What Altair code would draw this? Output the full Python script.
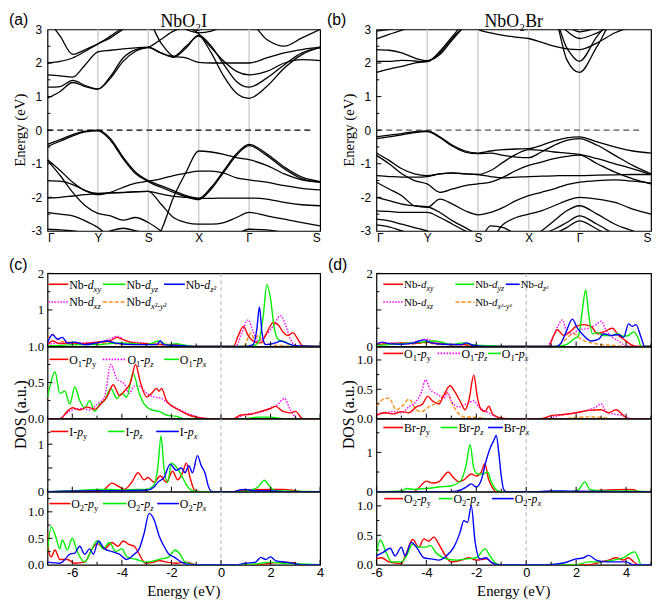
import altair as alt
import pandas as pd

SERIF = "Liberation Serif"
SANS = "Liberation Sans"

# ---------------- band structure data ----------------
K_GRID = [0, 0.25, 0.5, 0.75, 1, 1.25, 1.5, 1.75, 2, 2.25, 2.5, 2.75, 3, 3.25, 3.5, 3.75, 4, 4.35, 4.7, 5.05, 5.41]
K_TICKS = [0, 1, 2, 3, 4, 5.41]
K_LABELS = ["Γ", "Y", "S", "X", "Γ", "S"]

A_C1 = [0.95, 1.15, 1.42, 1.30, 1.22, 1.60, 2.15, 2.40, 2.47, 2.70, 2.95, 3.05, 2.87, 2.30, 1.60, 1.10, 0.95, 1.30, 1.85, 2.25, 2.47]
A_C2 = [1.28, 1.30, 1.48, 1.33, 1.23, 1.55, 2.05, 2.35, 2.46, 2.30, 2.17, 2.45, 2.83, 2.50, 1.95, 1.45, 1.28, 1.55, 1.95, 2.30, 2.45]
A_C3 = [1.65, 1.62, 1.58, 1.95, 2.33, 2.38, 2.42, 2.45, 2.47, 2.30, 2.20, 2.50, 2.80, 2.45, 2.05, 1.75, 1.65, 1.75, 2.00, 2.10, 2.07]
A_C4 = [2.00, 2.05, 2.15, 2.35, 2.57, 2.75, 3.00, 3.15, 3.20, 2.60, 2.20, 2.15, 2.02, 2.00, 2.00, 2.00, 2.00, 2.15, 2.30, 2.40, 2.47]
A_C5 = [3.30, 2.80, 2.26, 2.40, 2.57, 2.80, 3.05, 3.20, 3.30, 3.30, 3.20, 3.00, 2.90, 2.95, 3.10, 3.20, 3.20, 2.70, 2.50, 2.75, 3.00]
A_V1 = [-0.42, -0.28, -0.13, -0.03, 0.00, -0.25, -0.80, -1.25, -1.50, -1.65, -1.80, -1.95, -2.03, -1.70, -1.20, -0.70, -0.42, -0.70, -1.10, -1.40, -1.53]
A_V2 = [-0.48, -0.33, -0.17, -0.05, -0.02, -0.30, -0.85, -1.30, -1.53, -1.70, -1.85, -1.98, -2.07, -1.75, -1.25, -0.75, -0.46, -0.75, -1.15, -1.45, -1.55]
A_V3 = [-0.88, -1.20, -1.55, -1.80, -1.88, -1.87, -1.86, -1.84, -1.82, -1.90, -1.97, -2.00, -2.03, -2.03, -2.02, -2.02, -2.02, -2.05, -2.15, -2.22, -2.25]
A_V4 = [-0.90, -1.35, -1.85, -2.25, -2.48, -2.55, -2.68, -2.60, -2.75, -3.00, -3.30, -3.40, -3.40, -3.30, -3.20, -3.10, -3.05, -3.10, -3.20, -3.30, -3.40]
A_V5 = [-1.50, -1.52, -1.62, -1.80, -1.92, -1.85, -1.70, -1.58, -1.52, -1.45, -1.35, -1.28, -1.22, -1.22, -1.28, -1.42, -1.48, -1.55, -1.65, -1.73, -1.78]
A_V6 = [-2.45, -2.50, -2.55, -2.70, -2.90, -3.20, -3.40, -3.40, -3.40, -3.00, -2.00, -1.25, -0.62, -0.65, -0.72, -0.82, -0.88, -1.05, -1.30, -1.48, -1.55]
A_V7 = [-2.02, -2.00, -1.96, -1.92, -1.89, -1.87, -1.85, -1.83, -1.82, -2.20, -2.60, -2.75, -2.80, -2.80, -2.75, -2.60, -2.45, -2.55, -2.65, -2.75, -2.85]
A_V8 = [-2.95, -2.97, -3.00, -3.05, -3.10, -3.00, -2.92, -3.00, -3.10, -3.40, -3.40, -3.40, -3.40, -3.40, -3.30, -3.10, -2.95, -2.97, -3.05, -3.20, -3.40]
BANDS_A = [A_C1, A_C2, A_C3, A_C4, A_C5, A_V1, A_V2, A_V3, A_V4, A_V5, A_V6, A_V7, A_V8]

B_C1 = [1.72, 1.82, 1.90, 2.00, 2.05, 2.30, 2.75, 3.10, 3.30, 3.30, 3.30, 3.30, 3.30, 3.30, 3.30, 2.10, 1.72, 2.50, 3.30, 3.30, 3.30]
B_C2 = [2.05, 2.05, 2.08, 2.06, 2.04, 2.35, 2.80, 3.20, 3.30, 3.30, 3.30, 3.30, 3.30, 3.30, 3.30, 2.45, 2.05, 2.80, 3.30, 3.30, 3.30]
B_C3 = [2.40, 2.38, 2.30, 2.15, 2.07, 2.25, 2.70, 3.10, 3.30, 3.30, 3.30, 3.30, 3.30, 3.30, 3.30, 2.95, 2.73, 2.90, 3.15, 3.30, 3.30]
B_C4 = [2.72, 2.85, 2.98, 3.10, 3.20, 3.30, 3.30, 3.30, 3.00, 2.90, 2.82, 2.77, 2.73, 2.62, 2.50, 2.42, 2.40, 2.60, 2.90, 3.10, 3.30]
B_C5 = [2.95, 3.00, 3.10, 3.20, 3.30, 3.30, 3.30, 3.30, 3.30, 3.30, 3.30, 3.30, 3.30, 3.30, 3.30, 3.10, 2.93, 3.05, 3.20, 3.30, 3.30]
B_V1 = [-0.20, -0.15, -0.10, -0.04, -0.02, -0.20, -0.45, -0.62, -0.68, -0.62, -0.58, -0.56, -0.55, -0.45, -0.32, -0.23, -0.20, -0.35, -0.50, -0.62, -0.68]
B_V2 = [-0.25, -0.20, -0.14, -0.07, -0.04, -0.22, -0.48, -0.65, -0.70, -0.68, -0.75, -0.80, -0.82, -0.65, -0.45, -0.30, -0.25, -0.45, -0.75, -1.05, -1.30]
B_V3 = [-0.68, -0.90, -1.15, -1.30, -1.35, -1.30, -1.28, -1.30, -1.32, -1.20, -0.95, -0.72, -0.58, -0.60, -0.65, -0.68, -0.72, -0.85, -1.00, -1.15, -1.32]
B_V4 = [-0.75, -1.00, -1.30, -1.50, -1.60, -1.85, -1.75, -1.65, -1.60, -1.55, -1.40, -1.20, -1.05, -0.95, -0.85, -0.78, -0.74, -1.00, -1.25, -1.45, -1.60]
B_V5 = [-1.35, -1.38, -1.40, -1.40, -1.38, -1.30, -1.27, -1.30, -1.32, -1.38, -1.42, -1.40, -1.38, -1.37, -1.36, -1.35, -1.35, -1.34, -1.33, -1.32, -1.32]
B_V6 = [-1.55, -1.75, -1.95, -2.25, -2.30, -2.05, -2.20, -2.40, -2.52, -2.45, -2.30, -2.10, -1.95, -1.85, -1.75, -1.62, -1.55, -1.50, -1.48, -1.52, -1.58]
B_V7 = [-2.00, -2.10, -2.20, -2.25, -2.28, -2.45, -2.70, -2.90, -3.10, -3.20, -2.80, -2.60, -2.50, -2.40, -2.25, -2.10, -2.00, -2.05, -2.15, -2.35, -2.50]
B_V8 = [-2.40, -2.42, -2.45, -2.45, -2.45, -2.60, -2.80, -3.00, -3.20, -3.30, -3.30, -3.30, -3.20, -3.00, -2.70, -2.40, -2.25, -2.50, -2.80, -3.00, -3.20]
B_V9 = [-2.65, -2.70, -2.80, -2.90, -3.00, -3.20, -3.30, -3.30, -3.30, -2.85, -2.90, -3.10, -3.20, -3.10, -2.95, -2.75, -2.55, -2.80, -3.10, -3.30, -3.30]
B_V10 = [-2.82, -2.88, -3.00, -3.10, -3.20, -3.30, -3.30, -3.30, -3.30, -3.30, -3.30, -3.30, -3.30, -3.30, -3.10, -2.90, -2.70, -2.95, -3.20, -3.30, -3.30]
BANDS_B = [B_C1, B_C2, B_C3, B_C4, B_C5, B_V1, B_V2, B_V3, B_V4, B_V5, B_V6, B_V7, B_V8, B_V9, B_V10]

# ---------------- DOS data (energy, value) ----------------
C_NB_DXY = [(-7,0.05),(-6.8,0.15),(-6.5,0.08),(-6,0.1),(-5.5,0.08),(-5,0.12),(-4.5,0.15),(-4.2,0.25),(-4,0.2),(-3.5,0.1),(-3,0.08),(-2.5,0.06),(-2,0.05),(-1.5,0.03),(-1,0.0),(0.5,0.0),(0.7,0.3),(0.9,0.55),(1.1,0.3),(1.3,0.15),(1.6,0.1),(1.9,0.45),(2.1,0.65),(2.3,0.6),(2.5,0.4),(2.7,0.3),(2.9,0.38),(3.1,0.2),(3.3,0.02),(4,0)]
C_NB_DYZ = [(-7,0.02),(-6.5,0.03),(-6,0.05),(-5,0.05),(-4.5,0.08),(-4,0.1),(-3.5,0.08),(-3,0.05),(-2.5,0.15),(-2.2,0.05),(-1.8,0.08),(-1.5,0.04),(-1,0),(1.2,0),(1.5,0.1),(1.7,0.8),(1.85,1.7),(2.0,1.3),(2.15,0.5),(2.3,0.2),(2.6,0.12),(2.8,0.05),(3.0,0.0),(4,0)]
C_NB_DZ2 = [(-7,0.1),(-6.8,0.33),(-6.6,0.2),(-6.4,0.25),(-6.2,0.1),(-5.9,0.12),(-5.5,0.05),(-5,0.1),(-4.6,0.15),(-4.3,0.1),(-3.5,0.05),(-2.6,0.05),(-2.45,0.15),(-2.3,0.05),(-1.5,0.02),(-1,0),(1.0,0),(1.3,0.05),(1.45,0.5),(1.55,1.08),(1.65,0.4),(1.8,0.05),(2.2,0.1),(2.4,0.15),(2.7,0.08),(3.0,0.02),(4,0)]
C_NB_DXZ = [(-7,0.05),(-6.5,0.1),(-6,0.08),(-5.5,0.1),(-5,0.12),(-4.5,0.2),(-4.2,0.28),(-3.8,0.15),(-3.2,0.1),(-2.5,0.05),(-1.5,0.02),(-1,0),(0.6,0),(0.8,0.3),(1.1,0.73),(1.3,0.4),(1.5,0.15),(1.8,0.3),(2.1,0.55),(2.4,0.84),(2.6,0.6),(2.8,0.2),(3.1,0.0),(4,0)]
C_NB_DX2 = [(-7,0.2),(-6.8,0.33),(-6.5,0.15),(-6.2,0.12),(-5.8,0.08),(-5.5,0.05),(-5,0.08),(-4.5,0.1),(-4,0.05),(-3,0.05),(-2,0.03),(-1,0),(0.9,0),(1.1,0.25),(1.2,0.37),(1.35,0.2),(1.5,0.3),(1.7,0.1),(2.0,0.05),(2.5,0.02),(3,0),(4,0)]

C_O1_PY = [(-7,0),(-6.5,0),(-6.2,0.1),(-6,0.15),(-5.7,0.12),(-5.4,0.16),(-5.1,0.13),(-4.8,0.22),(-4.6,0.3),(-4.35,0.47),(-4.1,0.32),(-3.9,0.38),(-3.65,0.5),(-3.45,0.75),(-3.25,0.5),(-3.0,0.3),(-2.8,0.35),(-2.6,0.42),(-2.5,0.38),(-2.4,0.42),(-2.2,0.25),(-2.0,0.18),(-1.7,0.12),(-1.3,0.05),(-1.0,0.02),(-0.5,0),(0.5,0),(0.8,0.05),(1.2,0.06),(1.6,0.1),(2.0,0.14),(2.2,0.17),(2.5,0.1),(2.8,0.08),(3.0,0.1),(3.3,0.0),(4,0)]
C_O1_PZ = [(-7,0),(-6.5,0),(-6.2,0.08),(-6,0.12),(-5.6,0.14),(-5.3,0.12),(-5,0.2),(-4.7,0.3),(-4.45,0.75),(-4.2,0.55),(-3.9,0.48),(-3.7,0.35),(-3.5,0.45),(-3.3,0.45),(-3.0,0.35),(-2.7,0.3),(-2.4,0.28),(-2.1,0.2),(-1.8,0.15),(-1.4,0.08),(-1.0,0.03),(-0.5,0),(0.5,0),(1.0,0.06),(1.5,0.08),(2.0,0.15),(2.3,0.2),(2.55,0.28),(2.8,0.12),(3.1,0.0),(4,0)]
C_O1_PX = [(-7,0.3),(-6.9,0.45),(-6.7,0.65),(-6.5,0.35),(-6.3,0.38),(-6.1,0.2),(-5.9,0.44),(-5.7,0.25),(-5.5,0.15),(-5.3,0.25),(-5.1,0.1),(-4.9,0.2),(-4.7,0.25),(-4.45,0.42),(-4.2,0.28),(-4.0,0.35),(-3.8,0.3),(-3.55,0.63),(-3.3,0.35),(-3.1,0.2),(-2.8,0.12),(-2.5,0.1),(-2.2,0.05),(-1.8,0.03),(-1.5,0),(1.0,0),(1.5,0.02),(2.0,0.02),(2.5,0),(4,0)]

C_I_PY = [(-7,0),(-5,0),(-4.7,0.05),(-4.4,0.18),(-4.1,0.1),(-3.9,0.05),(-3.6,0.2),(-3.35,0.4),(-3.1,0.25),(-2.95,0.3),(-2.7,0.2),(-2.45,0.33),(-2.2,0.2),(-1.95,0.43),(-1.75,0.25),(-1.55,0.4),(-1.4,0.6),(-1.25,0.3),(-1.05,0.02),(-0.8,0),(0.5,0),(1.0,0.03),(2.0,0.05),(2.5,0.05),(3.0,0.02),(3.3,0),(4,0)]
C_I_PZ = [(-7,0),(-6,0.02),(-5,0.05),(-4.5,0.05),(-4,0.03),(-3.5,0.05),(-3.0,0.05),(-2.7,0.15),(-2.55,0.5),(-2.42,1.17),(-2.3,0.5),(-2.15,0.2),(-2.0,0.6),(-1.85,0.55),(-1.6,0.35),(-1.4,0.15),(-1.15,0.02),(-0.8,0),(0.8,0),(1.2,0.03),(1.5,0.1),(1.75,0.24),(1.95,0.12),(2.2,0.02),(4,0)]
C_I_PX = [(-7,0),(-5,0.02),(-4,0.02),(-3,0.03),(-2.7,0.1),(-2.55,0.2),(-2.3,0.3),(-2.05,0.58),(-1.8,0.45),(-1.6,0.5),(-1.45,0.4),(-1.3,0.55),(-1.15,0.4),(-0.95,0.76),(-0.8,0.55),(-0.65,0.4),(-0.5,0.1),(-0.35,0),(0.5,0),(0.8,0.04),(1.0,0.05),(1.3,0.02),(2,0.02),(2.5,0),(4,0)]

C_O2_PY = [(-7,0.6),(-6.95,0.25),(-6.85,0.15),(-6.7,0.28),(-6.5,0.1),(-6.2,0.1),(-5.9,0.03),(-5.5,0.05),(-5.2,0.3),(-5.0,0.4),(-4.7,0.3),(-4.4,0.42),(-4.15,0.35),(-3.95,0.45),(-3.7,0.38),(-3.5,0.35),(-3.3,0.2),(-3.05,0.03),(-2.7,0.05),(-2.5,0.08),(-2.2,0.05),(-1.8,0.03),(-1.4,0.05),(-1.0,0),(1.5,0),(2.0,0.03),(2.5,0.05),(2.9,0.04),(3.2,0),(4,0)]
C_O2_PZ = [(-7,0.25),(-6.85,0.72),(-6.65,0.5),(-6.5,0.3),(-6.4,0.47),(-6.2,0.28),(-6.0,0.5),(-5.8,0.25),(-5.5,0.05),(-5.3,0.2),(-5.0,0.45),(-4.75,0.3),(-4.5,0.42),(-4.25,0.25),(-4.0,0.3),(-3.8,0.15),(-3.4,0.1),(-3.0,0.05),(-2.5,0.1),(-2.1,0.15),(-1.85,0.28),(-1.65,0.2),(-1.45,0.05),(-1.0,0),(1.0,0),(1.5,0.02),(2.0,0.05),(2.5,0.03),(3.0,0.02),(4,0)]
C_O2_PX = [(-7,0.05),(-6.5,0.03),(-6.3,0.1),(-6.1,0.2),(-5.9,0.22),(-5.7,0.35),(-5.5,0.2),(-5.3,0.3),(-5.15,0.2),(-4.95,0.45),(-4.7,0.3),(-4.4,0.25),(-4.1,0.2),(-3.8,0.1),(-3.5,0.2),(-3.3,0.3),(-3.1,0.6),(-2.9,0.97),(-2.7,0.85),(-2.5,0.55),(-2.3,0.35),(-2.1,0.2),(-1.9,0.15),(-1.6,0.05),(-1.2,0.0),(0.6,0),(1.0,0.03),(1.4,0.05),(1.6,0.14),(1.8,0.1),(2.0,0.15),(2.2,0.08),(2.6,0.05),(3.0,0.02),(3.3,0),(4,0)]

D_NB_DXY = [(-6,0.05),(-5.5,0.08),(-5,0.1),(-4.5,0.08),(-4,0.12),(-3.5,0.08),(-3,0.05),(-2.5,0.05),(-2,0.03),(-1.5,0),(0.9,0),(1.1,0.3),(1.25,0.46),(1.5,0.3),(1.75,0.4),(2.0,0.55),(2.3,0.6),(2.6,0.55),(2.85,0.35),(3.1,0.4),(3.45,0.5),(3.7,0.3),(3.9,0.2),(4.2,0.05),(4.4,0),(5,0)]
D_NB_DYZ = [(-6,0.03),(-5.5,0.05),(-5,0.08),(-4.5,0.1),(-4.2,0.12),(-3.7,0.15),(-3.3,0.1),(-3,0.05),(-2.5,0.1),(-2.2,0.05),(-1.5,0.02),(-1,0),(1.2,0),(1.6,0.05),(1.9,0.2),(2.1,0.3),(2.25,1.0),(2.38,1.55),(2.5,0.9),(2.65,0.35),(2.85,0.38),(3.1,0.3),(3.4,0.3),(3.65,0.35),(3.9,0.28),(4.1,0.3),(4.3,0.4),(4.5,0.2),(4.6,0.0),(5,0)]
D_NB_DZ2 = [(-6,0.05),(-5.8,0.12),(-5.5,0.08),(-5,0.06),(-4.5,0.1),(-4.1,0.18),(-3.8,0.1),(-3.3,0.06),(-2.6,0.05),(-2.4,0.1),(-2.1,0.03),(-1.5,0),(1.2,0),(1.4,0.1),(1.6,0.4),(1.85,0.75),(2.05,0.5),(2.3,0.3),(2.6,0.15),(2.9,0.2),(3.1,0.35),(3.4,0.3),(3.7,0.33),(3.9,0.25),(4.1,0.62),(4.25,0.55),(4.4,0.6),(4.6,0.25),(4.75,0.0),(5,0)]
D_NB_DXZ = [(-6,0.05),(-5.5,0.1),(-5,0.08),(-4.5,0.12),(-4.0,0.2),(-3.6,0.12),(-3,0.06),(-2.5,0.05),(-2,0.02),(-1.5,0),(0.8,0),(1.1,0.3),(1.3,0.6),(1.45,0.73),(1.6,0.45),(1.8,0.35),(2.1,0.45),(2.5,0.5),(2.8,0.6),(3.0,0.69),(3.2,0.45),(3.45,0.25),(3.7,0.15),(4.0,0.02),(5,0)]
D_NB_DX2 = [(-6,0.1),(-5.5,0.08),(-5,0.06),(-4.5,0.08),(-4,0.1),(-3.5,0.05),(-3,0.05),(-2,0.03),(-1.5,0),(1.2,0),(1.5,0.15),(1.9,0.35),(2.2,0.2),(2.6,0.1),(3,0.05),(3.5,0.03),(4,0.0),(5,0)]

D_O1_PY = [(-6,0.05),(-5.7,0.1),(-5.3,0.08),(-5,0.12),(-4.7,0.1),(-4.4,0.2),(-4.15,0.25),(-3.95,0.38),(-3.75,0.3),(-3.5,0.25),(-3.3,0.4),(-3.05,0.56),(-2.85,0.45),(-2.65,0.3),(-2.45,0.15),(-2.3,0.3),(-2.1,0.74),(-1.95,0.35),(-1.8,0.15),(-1.65,0.12),(-1.5,0.21),(-1.35,0.08),(-1.1,0.02),(-0.8,0),(0.6,0),(1.0,0.05),(1.5,0.07),(2.0,0.1),(2.5,0.14),(3.0,0.15),(3.3,0.1),(3.6,0.15),(3.9,0.05),(4.1,0),(5,0)]
D_O1_PZ = [(-6,0.08),(-5.7,0.1),(-5.3,0.12),(-5,0.1),(-4.7,0.2),(-4.4,0.3),(-4.2,0.45),(-4.03,0.66),(-3.85,0.5),(-3.7,0.45),(-3.5,0.4),(-3.3,0.35),(-3.15,0.45),(-3.0,0.3),(-2.7,0.2),(-2.4,0.25),(-2.1,0.3),(-1.9,0.2),(-1.6,0.12),(-1.3,0.05),(-1.0,0),(0.8,0),(1.3,0.05),(2.0,0.1),(2.5,0.15),(2.8,0.2),(3.0,0.25),(3.2,0.12),(3.5,0.08),(3.9,0.05),(4.2,0),(5,0)]
D_O1_PX = [(-6,0.22),(-5.9,0.28),(-5.5,0.35),(-5.2,0.15),(-5.0,0.2),(-4.7,0.33),(-4.4,0.15),(-4.2,0.12),(-3.9,0.2),(-3.5,0.3),(-3.2,0.44),(-2.9,0.2),(-2.7,0.08),(-2.5,0.03),(-2.0,0.02),(-1.5,0),(1.5,0),(2.0,0.02),(2.5,0.03),(3.0,0.02),(3.5,0),(5,0)]

D_BR_PY = [(-6,0),(-4.5,0),(-4.3,0.1),(-4.0,0.27),(-3.75,0.22),(-3.5,0.25),(-3.3,0.4),(-3.13,0.5),(-2.9,0.35),(-2.7,0.25),(-2.5,0.3),(-2.2,0.45),(-2.0,0.4),(-1.8,0.5),(-1.66,0.71),(-1.5,0.3),(-1.35,0.1),(-1.2,0),(2.5,0),(3.0,0.04),(3.5,0.05),(4.0,0.06),(4.3,0.05),(4.5,0),(5,0)]
D_BR_PZ = [(-6,0),(-5,0.02),(-4.77,0.08),(-4.5,0.06),(-4,0.08),(-3.5,0.12),(-3.0,0.15),(-2.6,0.3),(-2.4,0.7),(-2.25,1.2),(-2.1,0.6),(-1.95,0.45),(-1.75,0.45),(-1.55,0.5),(-1.4,0.25),(-1.2,0.05),(-1.0,0),(1.8,0),(2.1,0.05),(2.35,0.25),(2.55,0.05),(3,0.02),(4,0.02),(5,0)]
D_BR_PX = [(-6,0),(-3,0),(-2.6,0.05),(-2.4,0.12),(-2.2,0.2),(-2.0,0.12),(-1.8,0.3),(-1.6,0.8),(-1.45,1.1),(-1.3,1.3),(-1.2,1.43),(-1.1,1.0),(-1.0,0.4),(-0.9,0.05),(-0.8,0),(0.5,0),(1.0,0.02),(1.5,0.02),(2.0,0.01),(5,0)]

D_O2_PY = [(-6,0.1),(-5.8,0.12),(-5.5,0.05),(-5.0,0.02),(-4.8,0.2),(-4.55,0.43),(-4.3,0.3),(-4.1,0.44),(-3.9,0.4),(-3.7,0.47),(-3.5,0.35),(-3.3,0.2),(-3.0,0.05),(-2.6,0.08),(-2.3,0.12),(-2.0,0.08),(-1.6,0.1),(-1.3,0.02),(-1.0,0),(2.5,0),(3.0,0.05),(3.3,0.08),(3.6,0.12),(3.9,0.08),(4.1,0.12),(4.3,0.05),(4.5,0),(5,0)]
D_O2_PZ = [(-6,0.2),(-5.85,0.42),(-5.6,0.2),(-5.4,0.05),(-5.0,0.05),(-4.8,0.15),(-4.55,0.35),(-4.3,0.3),(-4.0,0.3),(-3.85,0.33),(-3.6,0.2),(-3.2,0.1),(-2.8,0.08),(-2.4,0.1),(-2.0,0.12),(-1.65,0.27),(-1.45,0.15),(-1.2,0.02),(-1.0,0),(2.0,0),(2.5,0.05),(3.0,0.05),(3.5,0.08),(3.9,0.12),(4.2,0.2),(4.35,0.22),(4.5,0.1),(4.6,0),(5,0)]
D_O2_PX = [(-6,0.15),(-5.7,0.22),(-5.45,0.28),(-5.25,0.15),(-5.0,0.3),(-4.85,0.15),(-4.6,0.38),(-4.4,0.3),(-4.1,0.12),(-3.8,0.1),(-3.5,0.08),(-3.2,0.15),(-2.9,0.3),(-2.65,0.55),(-2.5,0.75),(-2.35,0.72),(-2.2,1.0),(-2.05,0.4),(-1.85,0.1),(-1.6,0.12),(-1.4,0.04),(-1.1,0),(0.8,0),(1.5,0.03),(2.0,0.1),(2.3,0.12),(2.5,0.16),(2.8,0.08),(3.2,0.05),(3.6,0.05),(4.0,0.05),(4.3,0),(5,0)]

RED, GREEN, BLUE, MAG, ORA = "#ff0000", "#00ee00", "#0000ff", "#ff00ff", "#ff8c1a"
DOT, DASH = [1.5, 1.5], [4, 2]

# ---------------- helpers ----------------
ONE = pd.DataFrame({"z": [0]})
W_N = {"N": .722, "b": .5, "-": .333, "d": .5, "x": .5, "y": .5, "z": .444, "O": .722, "p": .5,
       "I": .333, "B": .667, "r": .333, "1": .5, "2": .5, "²": .3}
W_I = {"d": .5, "x": .444, "y": .444, "z": .389, "p": .5, "²": .3, "-": .333}


def twidth(s, size, italic):
    tbl = W_I if italic else W_N
    return sum(tbl.get(c, W_N.get(c, .5)) for c in s) * size


def txt(s, x, y, size, font=SERIF, style="normal", align="left", baseline="alphabetic", angle=0):
    kw = dict(text=s, font=font, fontSize=size, fontStyle=style, align=align, baseline=baseline, color="black")
    if angle:
        kw["angle"] = angle
    return alt.Chart(ONE).mark_text(**kw).encode(x=alt.value(x), y=alt.value(y))


def legend_item(x0, x1, y, color, dash, parts, size=12):
    kw = dict(color=color, strokeWidth=1.6)
    if dash:
        kw["strokeDash"] = dash
    out = [alt.Chart(ONE).mark_rule(**kw).encode(x=alt.value(x0), x2=alt.value(x1), y=alt.value(y))]
    cx = x1 + 1
    for s, st in parts:
        italic = "i" in st
        sub = "s" in st
        fs = size * 0.72 if sub else size
        yy = y + 0.37 * size + (0.25 * size if sub else 0)
        out.append(txt(s, cx, yy, fs, style="italic" if italic else "normal"))
        cx += twidth(s, fs, italic)
    return out


def band_panel(bands, title, letter, letter_dx, fermi_color, W, H):
    rows = [dict(b=i, k=k, e=e) for i, band in enumerate(bands) for k, e in zip(K_GRID, band)]
    df = pd.DataFrame(rows)
    xs = alt.Scale(domain=[0, K_TICKS[-1]], nice=False, zero=False)
    ys = alt.Scale(domain=[-3, 3], nice=False, zero=False)
    expr = ""
    for i in range(len(K_TICKS) - 1):
        mid = (K_TICKS[i] + K_TICKS[i + 1]) / 2
        expr += f"datum.value < {mid} ? '{K_LABELS[i]}' : "
    expr += f"'{K_LABELS[-1]}'"
    xaxis = alt.Axis(values=K_TICKS, labelExpr=expr, ticks=False, domain=False, grid=False, title=None,
                     labelFont=SANS, labelFontSize=12, labelPadding=2, labelColor="black", labelFlush=True)
    yaxis = alt.Axis(values=[-3, -2, -1, 0, 1, 2, 3], labelExpr="datum.value + ''", ticks=False, domain=False,
                     grid=False, title=None, labelFont=SANS, labelFontSize=12, labelPadding=6,
                     labelColor="black", labelFlush=False, labelOverlap=False)
    X = lambda f: alt.X(f, scale=xs, axis=xaxis)
    Y = lambda f: alt.Y(f, scale=ys, axis=yaxis)
    layers = [
        alt.Chart(pd.DataFrame({"k": K_TICKS[1:-1]})).mark_rule(color="#cfcfcf", strokeWidth=1.5).encode(x=X("k:Q")),
        alt.Chart(ONE).mark_rule(color=fermi_color, strokeDash=[6, 4], strokeWidth=1.2).encode(
            y=alt.Y(datum=0, type="quantitative", scale=ys, axis=yaxis), x=alt.value(0), x2=alt.value(W - 9)),
        alt.Chart(df).mark_line(color="black", strokeWidth=1.3, interpolate="monotone", clip=True).encode(
            x=X("k:Q"), y=Y("e:Q"), detail="b:N"),
        alt.Chart(pd.DataFrame({"v": [-2, -1, 0, 1, 2]})).mark_rule(color="black").encode(
            y=Y("v:Q"), x=alt.value(0), x2=alt.value(5)),
        alt.Chart(pd.DataFrame({"v": [-2.5, -1.5, -0.5, 0.5, 1.5, 2.5]})).mark_rule(color="black").encode(
            y=Y("v:Q"), x=alt.value(0), x2=alt.value(3)),
        txt(title, W / 2, -2, 18, align="center"),
        txt(letter, letter_dx, -4, 16, font=SANS),
        txt("Energy (eV)", -28, H / 2, 15, align="center", baseline="middle", angle=270),
    ]
    return alt.layer(*layers).properties(width=W, height=H)


def dos_panel(curves, xdom, ydom, ylabels, yfmt, ymajor, yminor, W, H, legend, xmajor, xminor,
              bottom=False, extra=None, lsize=12):
    xs = alt.Scale(domain=xdom, nice=False, zero=False)
    ys = alt.Scale(domain=ydom, nice=False, zero=False)
    if bottom:
        xaxis = alt.Axis(values=xmajor, labelExpr="datum.value + ''", ticks=False, domain=False, grid=False,
                         title=None, labelFont=SANS, labelFontSize=13, labelPadding=2, labelColor="black",
                         labelFlush=False)
    else:
        xaxis = None
    yaxis = alt.Axis(values=ylabels, format=yfmt, ticks=False, domain=False, grid=False, title=None,
                     labelFont=SERIF, labelFontSize=13, labelPadding=4, labelColor="black",
                     labelFlush=False, labelOverlap=False)
    X = lambda f: alt.X(f, scale=xs, axis=xaxis)
    Y = lambda f: alt.Y(f, scale=ys, axis=yaxis)
    layers = [alt.Chart(ONE).mark_rule(color="#b0b0c4", strokeDash=[4, 3], strokeWidth=1).encode(
        x=alt.X(datum=0, type="quantitative", scale=xs, axis=xaxis))]
    for pts, color, dash in curves:
        df = pd.DataFrame(pts, columns=["e", "v"])
        kw = dict(color=color, strokeWidth=1.4, interpolate="monotone", clip=True)
        if dash:
            kw["strokeDash"] = dash
        layers.append(alt.Chart(df).mark_line(**kw).encode(x=X("e:Q"), y=Y("v:Q")))
    layers += [
        alt.Chart(pd.DataFrame({"v": ymajor})).mark_rule(color="black").encode(
            y=Y("v:Q"), x=alt.value(0), x2=alt.value(5)),
        alt.Chart(pd.DataFrame({"v": yminor})).mark_rule(color="black").encode(
            y=Y("v:Q"), x=alt.value(0), x2=alt.value(3)),
        alt.Chart(pd.DataFrame({"e": xmajor})).mark_rule(color="black").encode(
            x=X("e:Q"), y=alt.value(H), y2=alt.value(H - 5)),
        alt.Chart(pd.DataFrame({"e": xminor})).mark_rule(color="black").encode(
            x=X("e:Q"), y=alt.value(H), y2=alt.value(H - 3)),
    ]
    for item in legend:
        layers += legend_item(*item, size=lsize)
    if bottom:
        layers.append(txt("Energy (eV)", W / 2, H + 27, 15, align="center", baseline="middle"))
    if extra:
        layers += extra
    return alt.layer(*layers).properties(width=W, height=H)


def spacer(W, H):
    return alt.Chart(ONE).mark_point(opacity=0).encode(x=alt.value(0), y=alt.value(0)).properties(
        width=W, height=H, view=alt.ViewBackground(stroke="transparent"))


def nb_parts(sub):
    return [("Nb-", "n"), ("d", "i"), (sub, "si")]


def p_parts(atom, idx, sub, sub_style="si"):
    parts = [(atom, "n")]
    if idx:
        parts.append((idx, "s"))
    parts += [("-", "n"), ("p", "i"), (sub, sub_style)]
    return parts


# ---------------- panels ----------------
WA, WB = 276, 278
HB = 204
GAP = 43
HD = [74, 73, 74, 74]

band_a = band_panel(BANDS_A, "NbO₂I", "(a)", -39, "black", WA, HB)
band_b = band_panel(BANDS_B, "NbO₂Br", "(b)", -50, "#555555", WB, HB)

CX_MAJ = [-6, -4, -2, 0, 2, 4]
CX_MIN = [-7, -5, -3, -1, 1, 3]
DX_MAJ = [-6, -4, -2, 0, 2, 4]
DX_MIN = [-5, -3, -1, 1, 3, 5]

c1 = dos_panel([(C_NB_DXZ, MAG, DOT), (C_NB_DX2, ORA, DASH), (C_NB_DXY, RED, None), (C_NB_DYZ, GREEN, None),
                (C_NB_DZ2, BLUE, None)],
               [-7, 4], [0, 2], [1, 2], "d", [1, 2], [0.5, 1.5], WA, HD[0],
               [(1, 21, 11, RED, None, nb_parts("xy")), (56, 79, 11, GREEN, None, nb_parts("yz")),
                (118, 139, 11, BLUE, None, nb_parts("z²")), (1, 21, 29, MAG, DOT, nb_parts("xz")),
                (56, 79, 29, ORA, DASH, nb_parts("x²-y²"))],
               CX_MAJ, CX_MIN, extra=[txt("(c)", -39, -3, 16, font=SANS)])
c2 = dos_panel([(C_O1_PZ, MAG, DOT), (C_O1_PX, GREEN, None), (C_O1_PY, RED, None)],
               [-7, 4], [0, 1.0], [0, 0.5, 1.0], ".1f", [0.5, 1.0], [0.25, 0.75], WA, HD[1],
               [(2, 21, 13, RED, None, p_parts("O", "1", "y", "s")), (56, 80, 13, MAG, DOT, p_parts("O", "1", "z")),
                (118, 133, 13, GREEN, None, p_parts("O", "1", "x"))],
               CX_MAJ, CX_MIN,
               extra=[txt("DOS (a.u.)", -27, HD[1] - 4, 16, align="center", baseline="middle", angle=270)])
c3 = dos_panel([(C_I_PY, RED, None), (C_I_PZ, GREEN, None), (C_I_PX, BLUE, None)],
               [-7, 4], [0, 1.54], [0, 1], "d", [0.5, 1.0], [0.25, 0.75, 1.25], WA, HD[2],
               [(3, 21, 13, RED, None, p_parts("I", "", "y", "s")), (61, 78, 13, GREEN, None, p_parts("I", "", "z")),
                (110, 133, 13, BLUE, None, p_parts("I", "", "x"))],
               CX_MAJ, CX_MIN)
c4 = dos_panel([(C_O2_PY, RED, None), (C_O2_PZ, GREEN, None), (C_O2_PX, BLUE, None)],
               [-7, 4], [0, 1.38], [0, 0.5, 1.0], ".1f", [0.5, 1.0], [0.25, 0.75, 1.25], WA, HD[3],
               [(2, 23, 12, RED, None, p_parts("O", "2", "y", "s")), (56, 80, 12, GREEN, None, p_parts("O", "2", "z")),
                (111, 133, 12, BLUE, None, p_parts("O", "2", "x"))],
               CX_MAJ, CX_MIN, bottom=True)

d1 = dos_panel([(D_NB_DXZ, MAG, DOT), (D_NB_DX2, ORA, DASH), (D_NB_DXY, RED, None), (D_NB_DYZ, GREEN, None),
                (D_NB_DZ2, BLUE, None)],
               [-6, 5], [0, 2], [0, 1, 2], "d", [1, 2], [0.5, 1.5], WB, HD[0],
               [(7, 27, 11, RED, None, nb_parts("xy")), (80, 99, 11, GREEN, None, nb_parts("yz")),
                (131, 145, 11, BLUE, None, nb_parts("z²")), (7, 27, 29, MAG, DOT, nb_parts("xz")),
                (80, 99, 29, ORA, DASH, nb_parts("x²-y²"))],
               DX_MAJ, DX_MIN, extra=[txt("(d)", -49, -3, 16, font=SANS)], lsize=11)
d2 = dos_panel([(D_O1_PX, ORA, DASH), (D_O1_PZ, MAG, DOT), (D_O1_PY, RED, None)],
               [-6, 5], [0, 1.23], [0, 0.5, 1.0], ".1f", [0.5, 1.0], [0.25, 0.75], WB, HD[1],
               [(7, 27, 7, RED, None, p_parts("O", "1", "y", "s")), (62, 85, 7, MAG, DOT, p_parts("O", "1", "z")),
                (113, 126, 7, GREEN, None, p_parts("O", "1", "x"))],
               DX_MAJ, DX_MIN,
               extra=[txt("DOS (a.u.)", -28, HD[1] - 4, 16, align="center", baseline="middle", angle=270)])
d3 = dos_panel([(D_BR_PY, RED, None), (D_BR_PZ, GREEN, None), (D_BR_PX, BLUE, None)],
               [-6, 5], [0, 1.86], [0, 1], "d", [1.0], [0.5, 1.5], WB, HD[2],
               [(7, 27, 9, RED, None, p_parts("Br", "", "y", "s")), (65, 82, 9, GREEN, None, p_parts("Br", "", "z")),
                (113, 128, 9, BLUE, None, p_parts("Br", "", "x"))],
               DX_MAJ, DX_MIN)
d4 = dos_panel([(D_O2_PY, RED, None), (D_O2_PZ, GREEN, None), (D_O2_PX, BLUE, None)],
               [-6, 5], [0, 1.24], [0, 0.5, 1.0], ".1f", [0.5, 1.0], [0.25, 0.75], WB, HD[3],
               [(8, 27, 7, RED, None, p_parts("O", "2", "y", "s")), (63, 77, 7, GREEN, None, p_parts("O", "2", "z")),
                (117, 139, 7, BLUE, None, p_parts("O", "2", "x"))],
               DX_MAJ, DX_MIN, bottom=True)

chart = alt.concat(
    band_a, band_b, spacer(WA, GAP), spacer(WB, GAP), c1, d1, c2, d2, c3, d3, c4, d4,
    columns=2, spacing={"row": 0, "column": 57}, bounds="flush"
).properties(
    padding={"left": 0, "top": 0, "right": 0, "bottom": 0}
).configure_view(stroke="black", strokeWidth=1.2)

chart.save("out.html", embed_options={"renderer": "svg", "actions": False})
